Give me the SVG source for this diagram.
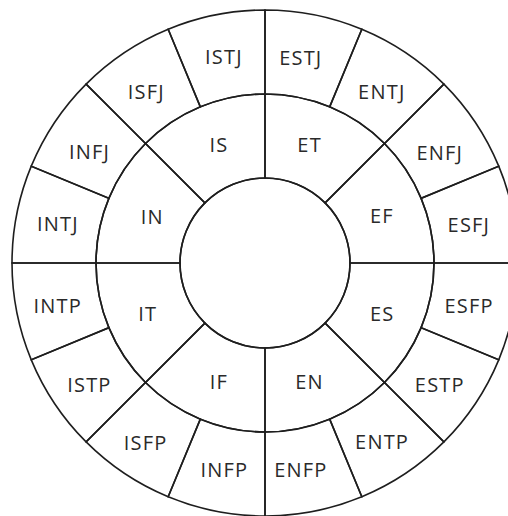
<svg xmlns="http://www.w3.org/2000/svg" width="508" height="516" viewBox="0 0 508 516">
<style>
.w{fill:none;stroke:#1e1e1e;stroke-width:1.6}
text{font-family:"Open Sans","Noto Sans",sans-serif;font-size:20px;letter-spacing:1.2px;text-anchor:middle;fill:#2a2a2a}
</style>
<rect width="508" height="516" fill="#fff"/>
<g id="center"><circle class="w" cx="265" cy="263" r="85"/></g>
<g id="ET"><path class="w" d="M265,178 L265,94 A169,169 0 0 1 384.5,143.5 L325.1,202.9 A85,85 0 0 0 265,178 Z"/><text x="309.6" y="152">ET</text></g>
<g id="EF"><path class="w" d="M325.1,202.9 L384.5,143.5 A169,169 0 0 1 434,263 L350,263 A85,85 0 0 0 325.1,202.9 Z"/><text x="381.8" y="223">EF</text></g>
<g id="ES"><path class="w" d="M350,263 L434,263 A169,169 0 0 1 384.5,382.5 L325.1,323.1 A85,85 0 0 0 350,263 Z"/><text x="382.3" y="320.8">ES</text></g>
<g id="EN"><path class="w" d="M325.1,323.1 L384.5,382.5 A169,169 0 0 1 265,432 L265,348 A85,85 0 0 0 325.1,323.1 Z"/><text x="309.6" y="389.2">EN</text></g>
<g id="IF"><path class="w" d="M265,348 L265,432 A169,169 0 0 1 145.5,382.5 L204.9,323.1 A85,85 0 0 0 265,348 Z"/><text x="218.8" y="389.2">IF</text></g>
<g id="IT"><path class="w" d="M204.9,323.1 L145.5,382.5 A169,169 0 0 1 96,263 L180,263 A85,85 0 0 0 204.9,323.1 Z"/><text x="147.8" y="321.2">IT</text></g>
<g id="IN"><path class="w" d="M180,263 L96,263 A169,169 0 0 1 145.5,143.5 L204.9,202.9 A85,85 0 0 0 180,263 Z"/><text x="152.3" y="223.7">IN</text></g>
<g id="IS"><path class="w" d="M204.9,202.9 L145.5,143.5 A169,169 0 0 1 265,94 L265,178 A85,85 0 0 0 204.9,202.9 Z"/><text x="218.9" y="152">IS</text></g>
<g id="ESTJ"><path class="w" d="M265,94 L265,10 A253,253 0 0 1 361.82,29.26 L329.67,106.86 A169,169 0 0 0 265,94 Z"/><text x="300.8" y="64.5">ESTJ</text></g>
<g id="ENTJ"><path class="w" d="M329.67,106.86 L361.82,29.26 A253,253 0 0 1 443.9,84.1 L384.5,143.5 A169,169 0 0 0 329.67,106.86 Z"/><text x="381.8" y="99">ENTJ</text></g>
<g id="ENFJ"><path class="w" d="M384.5,143.5 L443.9,84.1 A253,253 0 0 1 498.74,166.18 L421.14,198.33 A169,169 0 0 0 384.5,143.5 Z"/><text x="439.8" y="159.5">ENFJ</text></g>
<g id="ESFJ"><path class="w" d="M421.14,198.33 L498.74,166.18 A253,253 0 0 1 518,263 L434,263 A169,169 0 0 0 421.14,198.33 Z"/><text x="468.9" y="231.5">ESFJ</text></g>
<g id="ESFP"><path class="w" d="M434,263 L518,263 A253,253 0 0 1 498.74,359.82 L421.14,327.67 A169,169 0 0 0 434,263 Z"/><text x="469.1" y="313">ESFP</text></g>
<g id="ESTP"><path class="w" d="M421.14,327.67 L498.74,359.82 A253,253 0 0 1 443.9,441.9 L384.5,382.5 A169,169 0 0 0 421.14,327.67 Z"/><text x="439.8" y="391.7">ESTP</text></g>
<g id="ENTP"><path class="w" d="M384.5,382.5 L443.9,441.9 A253,253 0 0 1 361.82,496.74 L329.67,419.14 A169,169 0 0 0 384.5,382.5 Z"/><text x="382.1" y="449.2">ENTP</text></g>
<g id="ENFP"><path class="w" d="M329.67,419.14 L361.82,496.74 A253,253 0 0 1 265,516 L265,432 A169,169 0 0 0 329.67,419.14 Z"/><text x="300.8" y="477.3">ENFP</text></g>
<g id="INFP"><path class="w" d="M265,432 L265,516 A253,253 0 0 1 168.18,496.74 L200.33,419.14 A169,169 0 0 0 265,432 Z"/><text x="224.3" y="477.3">INFP</text></g>
<g id="ISFP"><path class="w" d="M200.33,419.14 L168.18,496.74 A253,253 0 0 1 86.1,441.9 L145.5,382.5 A169,169 0 0 0 200.33,419.14 Z"/><text x="145.6" y="449.7">ISFP</text></g>
<g id="ISTP"><path class="w" d="M145.5,382.5 L86.1,441.9 A253,253 0 0 1 31.26,359.82 L108.86,327.67 A169,169 0 0 0 145.5,382.5 Z"/><text x="89.4" y="391.7">ISTP</text></g>
<g id="INTP"><path class="w" d="M108.86,327.67 L31.26,359.82 A253,253 0 0 1 12,263 L96,263 A169,169 0 0 0 108.86,327.67 Z"/><text x="57.8" y="313.3">INTP</text></g>
<g id="INTJ"><path class="w" d="M96,263 L12,263 A253,253 0 0 1 31.26,166.18 L108.86,198.33 A169,169 0 0 0 96,263 Z"/><text x="57.9" y="231.4">INTJ</text></g>
<g id="INFJ"><path class="w" d="M108.86,198.33 L31.26,166.18 A253,253 0 0 1 86.1,84.1 L145.5,143.5 A169,169 0 0 0 108.86,198.33 Z"/><text x="89.6" y="159.3">INFJ</text></g>
<g id="ISFJ"><path class="w" d="M145.5,143.5 L86.1,84.1 A253,253 0 0 1 168.18,29.26 L200.33,106.86 A169,169 0 0 0 145.5,143.5 Z"/><text x="146.3" y="99.3">ISFJ</text></g>
<g id="ISTJ"><path class="w" d="M200.33,106.86 L168.18,29.26 A253,253 0 0 1 265,10 L265,94 A169,169 0 0 0 200.33,106.86 Z"/><text x="223.9" y="64.3">ISTJ</text></g>
<g id="connectors"/>
</svg>
